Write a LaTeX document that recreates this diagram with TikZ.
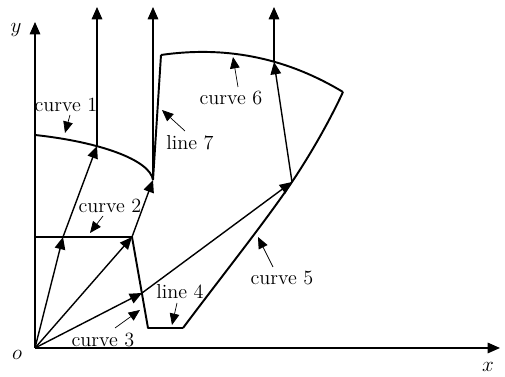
\documentclass[tikz,border=0pt]{standalone}
\usepackage{tikz}
\usetikzlibrary{arrows.meta}

\begin{document}
\begin{tikzpicture}[
  x=0.02cm, y=-0.02cm,
  axis/.style={line width=0.7pt, -{Triangle[length=7pt,width=6pt]}},
  bound/.style={line width=1.1pt, line join=round},
  ray/.style={line width=0.8pt, -{Triangle[length=7pt,width=6pt]}},
  pointer/.style={line width=0.4pt, -{Triangle[length=6.5pt,width=5.5pt]}},
  lbl/.style={inner sep=1pt, font=\fontsize{11.5}{13}\selectfont},
]
  \useasboundingbox (0,0) rectangle (505,377);
  % points of the region
  \coordinate (o) at (35,348);
  \coordinate (a1) at (35,135);
  \coordinate (p1) at (97,146);
  \coordinate (a2) at (153,180);
  \coordinate (a3) at (161,55);
  \coordinate (p6) at (274,62);
  \coordinate (a4) at (343,92);
  \coordinate (p5) at (292,182);
  \coordinate (a5) at (183,328);
  \coordinate (a6) at (148,328);
  \coordinate (a7) at (132,237);
  \coordinate (a8) at (35,237);
  \coordinate (p2) at (63,237);
  \coordinate (p3) at (142,293);
  \coordinate (ytop) at (35,22);
  \coordinate (xend) at (500,348);

  % axes
  \draw[axis] (o) -- (ytop);
  \draw[axis] (o) -- (xend);
  \node[lbl] at (16,30) {$y$};
  \node[lbl] at (488,367) {$x$};
  \node[lbl] at (17,355) {$o$};

  % boundary
  \draw[bound] (a1) .. controls (100,142) and (150,160) .. (a2);
  \draw[bound] (a2) -- (a3);
  \draw[bound] (a3) .. controls (230,45) and (290,60) .. (a4);
  \draw[bound] (a5) .. controls (225,272) and (265,222) .. (p5)
    .. controls (312,152) and (330,120) .. (a4);
  \draw[bound] (a8) -- (a7) -- (a6) -- (a5);

  % rays
  \draw[ray] (o) -- (p2);
  \draw[ray] (p2) -- (p1);
  \draw[ray] (p1) -- (97,7);
  \draw[ray] (o) -- (a7);
  \draw[ray] (a7) -- (a2);
  \draw[ray] (a2) -- (153,7);
  \draw[ray] (o) -- (p3);
  \draw[ray] (p3) -- (p5);
  \draw[ray] (p5) -- (p6);
  \draw[ray] (p6) -- (274,7);

  % labels
  \node[lbl] (c1) at (66,105) {curve 1};
  \node[lbl] (c2) at (110,206) {curve 2};
  \node[lbl] (c3) at (103,340) {curve 3};
  \node[lbl] (l4) at (180,292) {line 4};
  \node[lbl] (c5) at (282,278) {curve 5};
  \node[lbl] (c6) at (231,98) {curve 6};
  \node[lbl] (l7) at (190,143) {line 7};
  \draw[pointer] (70,115) -- (65,133);
  \draw[pointer] (103,216) -- (90,233);
  \draw[pointer] (115,328) -- (140,310);
  \draw[pointer] (177,303) -- (172,325);
  \draw[pointer] (273,267) -- (258,237);
  \draw[pointer] (238,87) -- (233,57);
  \draw[pointer] (185,131) -- (162,110);
\end{tikzpicture}
\end{document}
